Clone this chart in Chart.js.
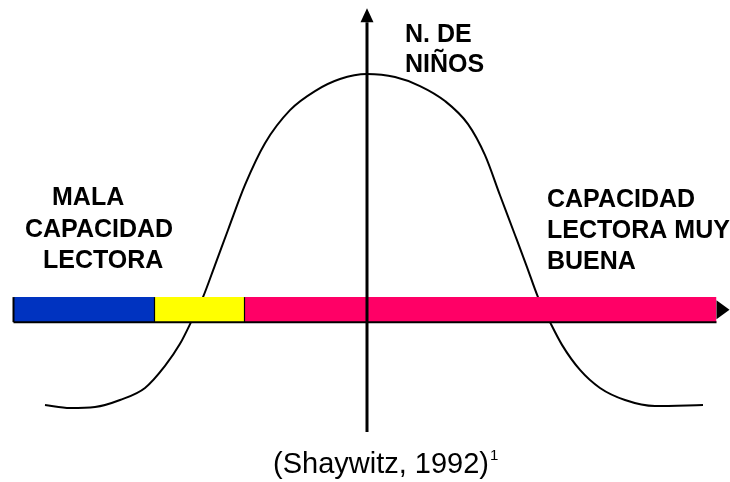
<!DOCTYPE html>
<html><head><meta charset="utf-8">
<script src="https://cdn.jsdelivr.net/npm/chart.js@4"></script>
<style>html,body{margin:0;padding:0;background:#fff}canvas{display:block}</style>
</head><body>
<canvas id="c" width="730" height="482"></canvas>
<script>
// ---- Data (reading ability in standard units vs. number of children, % of peak) ----
const curveX = [-6.44,-5.94,-5.44,-4.94,-4.44,-4.04,-3.74,-3.50,-3.28,-3.04,-2.78,-2.44,-2.04,-1.54,-1.04,-0.54,0,0.56,1.06,1.56,2.02,2.36,2.66,2.96,3.20,3.42,3.66,3.90,4.26,4.66,5.16,5.76,6.72];
const curveY = [0.9,0,0.3,2.4,6.0,12.6,19.2,26.3,33.2,42.8,53.3,66.8,79.3,89.2,94.9,98.5,100,99.1,96.4,91.9,85.0,75.7,63.7,51.8,42.2,33.2,25.7,18.9,11.4,6.0,2.4,0.6,0.9];
// reading-ability band: segment edges, bottom/top, arrow tip
const bandEdges = [-7.07, -4.25, -2.45, 6.99];
const bandLimits = [25.7, 33.2];
const bandArrowTip = [7.25];
// vertical axis: bottom, line top, arrow tip
const axisRange = [-7.2, 115.5, 119.7];
// text labels
const leftLabel = ['MALA', 'CAPACIDAD', 'LECTORA'];
const rightLabel = ['CAPACIDAD', 'LECTORA MUY', 'BUENA'];
const axisLabel = ['N. DE', 'NIÑOS'];
const caption = ['(Shaywitz, 1992)', '1'];

// ---- Styles ----
const bandColors = ['#0033c0', '#ffff00', '#ff0066'];
const bold = 'bold 25px "Liberation Sans", Arial, sans-serif';

const datasets = [];
// vertical axis
datasets.push({data:[{x:0,y:axisRange[0]},{x:0,y:axisRange[1]}], borderColor:'#000', borderWidth:3, pointRadius:0, order:0, borderCapStyle:'butt'});
// band borders: bottom line, left edge and dividers
datasets.push({data:[{x:bandEdges[0],y:bandLimits[0]},{x:bandEdges[3],y:bandLimits[0]}], borderColor:'#000', borderWidth:2, pointRadius:0, order:2});
for (let i = 0; i < 3; i++) {
  datasets.push({data:[{x:bandEdges[i],y:bandLimits[0]},{x:bandEdges[i],y:bandLimits[1]}], borderColor:'#000', borderWidth: i===0?2:1.2, pointRadius:0, order:2});
}
// band fills
for (let i = 0; i < 3; i++) {
  datasets.push({data:[{x:bandEdges[i],y:bandLimits[1]},{x:bandEdges[i+1],y:bandLimits[1]}], borderWidth:0, borderColor:'rgba(0,0,0,0)', backgroundColor:bandColors[i], fill:{value:bandLimits[0]}, pointRadius:0, order:3});
}
// bell curve
datasets.push({data:curveX.map((v,i)=>({x:v,y:curveY[i]})), borderColor:'#000', borderWidth:2, pointRadius:0, cubicInterpolationMode:'monotone', order:4});

const overlay = {
  id:'overlay',
  afterDatasetsDraw(chart){
    const {ctx, scales:{x, y}} = chart;
    ctx.save();
    ctx.fillStyle = '#000';
    // top arrowhead
    const ax = x.getPixelForValue(0), at = y.getPixelForValue(axisRange[2]);
    ctx.beginPath(); ctx.moveTo(ax, at); ctx.lineTo(ax-6.5, at+14); ctx.lineTo(ax+6.5, at+14); ctx.closePath(); ctx.fill();
    // right arrowhead
    const bx = x.getPixelForValue(bandArrowTip[0]), bm = y.getPixelForValue((bandLimits[0]+bandLimits[1])/2);
    ctx.beginPath(); ctx.moveTo(bx, bm); ctx.lineTo(bx-13, bm-9.5); ctx.lineTo(bx-13, bm+9.5); ctx.closePath(); ctx.fill();
    // labels
    ctx.font = bold; ctx.textBaseline = 'alphabetic'; ctx.textAlign = 'left';
    const put = (t, xv, yv) => ctx.fillText(t, x.getPixelForValue(xv), y.getPixelForValue(yv));
    put(leftLabel[0], -6.30, 60.8);
    put(leftLabel[1], -6.84, 51.2);
    put(leftLabel[2], -6.48, 41.9);
    put(rightLabel[0], 3.60, 60.2);
    put(rightLabel[1], 3.60, 50.9);
    put(rightLabel[2], 3.60, 41.6);
    put(axisLabel[0], 0.76, 109.6);
    put(axisLabel[1], 0.76, 100.6);
    ctx.font = '29px "Liberation Sans", Arial, sans-serif';
    const cx = x.getPixelForValue(-1.88), cy = y.getPixelForValue(-19.5);
    ctx.fillText(caption[0], cx, cy);
    const w = ctx.measureText(caption[0]).width;
    ctx.font = '15px "Liberation Sans", Arial, sans-serif';
    ctx.fillText(caption[1], cx + w + 1, cy - 13);
    ctx.restore();
  }
};

new Chart(document.getElementById('c'), {
  type:'line',
  data:{datasets},
  options:{
    responsive:false, animation:false,
    layout:{padding:0},
    plugins:{legend:{display:false}, tooltip:{enabled:false}},
    scales:{
      x:{type:'linear', min:-7.34, max:7.26, display:false},
      y:{type:'linear', min:-22.16, max:122.16, display:false}
    }
  },
  plugins:[overlay]
});
</script>
</body></html>
